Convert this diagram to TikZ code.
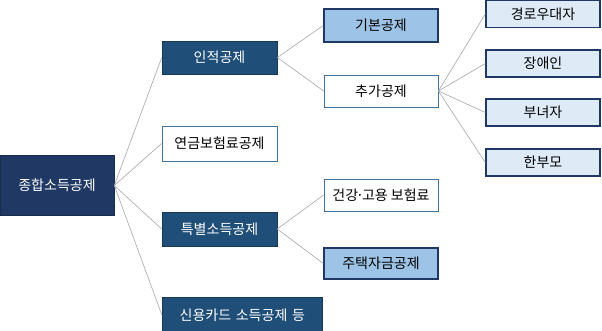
\documentclass[tikz,border=0pt]{standalone}
\usepackage{fontspec}
\setmainfont{Noto Sans CJK KR}
\definecolor{navy}{HTML}{203864}
\definecolor{dblue}{HTML}{1F4E79}
\definecolor{lblue}{HTML}{9DC3E6}
\definecolor{llblue}{HTML}{DEEBF7}
\definecolor{wborder}{HTML}{41719C}
\definecolor{conn}{HTML}{A6A6A6}
\begin{document}
\begin{tikzpicture}[x=1pt,y=-1pt,
  base/.style={rectangle,inner sep=0pt,font=\fontsize{14}{16}\selectfont},
  rootbox/.style={base,fill=navy,draw=navy!80!black,text=white,line width=0.6pt},
  darkbox/.style={base,fill=dblue,draw=dblue!70!black,text=white,line width=0.6pt},
  whitebox/.style={base,fill=white,draw=wborder,line width=0.8pt},
  midbox/.style={base,fill=lblue,draw=navy,line width=1.4pt},
  leafbox/.style={base,fill=llblue,draw=navy,line width=1.4pt},
  link/.style={draw=conn,line width=0.6pt}]
\useasboundingbox (0,0) rectangle (602,331);
% root
\node[rootbox,minimum width=114,minimum height=60] (root) at (57,185.5) {종합소득공제};
% level 1
\node[darkbox,minimum width=115,minimum height=33] (in) at (219.5,57.5) {인적공제};
\node[whitebox,minimum width=115,minimum height=35] (yg) at (219.5,143.5) {연금보험료공제};
\node[darkbox,minimum width=115,minimum height=34] (tb) at (219.5,229) {특별소득공제};
\node[darkbox,minimum width=160,minimum height=36,anchor=north west] (sy) at (162,297) {신용카드\kern1.5pt{} 소득공제\kern1.5pt{} 등};
% level 2
\node[midbox,minimum width=114,minimum height=33] (gb) at (381,25.5) {기본공제};
\node[whitebox,minimum width=114,minimum height=32] (cg) at (381,91) {추가공제};
\node[whitebox,minimum width=114,minimum height=32] (gg) at (381,195) {건강\kern-2pt·\kern-2pt고용 보험료};
\node[midbox,minimum width=114,minimum height=31] (jt) at (381,263.5) {주택자금공제};
% level 3
\node[leafbox,minimum width=114,minimum height=27] (l1) at (543,14) {경로우대자};
\node[leafbox,minimum width=114,minimum height=27] (l2) at (543,63.5) {장애인};
\node[leafbox,minimum width=114,minimum height=27] (l3) at (543,112.5) {부녀자};
\node[leafbox,minimum width=114,minimum height=27] (l4) at (543,162.5) {한부모};
% connectors
\foreach \c in {in,yg,tb,sy} \path[link] (root.east) -- (\c.west);
\foreach \c in {gb,cg} \path[link] (in.east) -- (\c.west);
\foreach \c in {gg,jt} \path[link] (tb.east) -- (\c.west);
\foreach \c in {l1,l2,l3,l4} \path[link] (cg.east) -- (\c.west);
\end{tikzpicture}
\end{document}
